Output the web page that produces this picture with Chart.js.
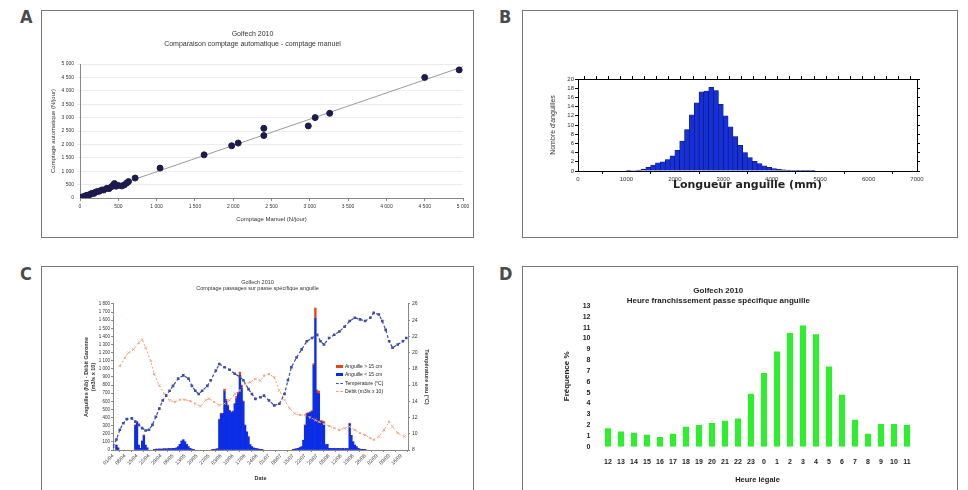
<!DOCTYPE html>
<html lang="fr">
<head>
<meta charset="utf-8">
<title>Golfech 2010</title>
<script src="https://cdn.jsdelivr.net/npm/chart.js@4.4.1/dist/chart.umd.min.js"></script>
<style>
  html, body { margin: 0; padding: 0; background: #fff; }
  body { width: 968px; height: 490px; position: relative; overflow: hidden; font-family: "Liberation Sans", Arial, sans-serif; }
  .tag { position: absolute; font-family: "Liberation Sans Narrow", "DejaVu Sans Condensed", sans-serif; font-weight: bold; font-size: 18px; line-height: 18px; color: #4b4b4b; }
  .box { position: absolute; box-sizing: border-box; border: 1px solid #777; background: #fff; }
  .box .wrap { position: absolute; left: 0; top: 0; right: 0; bottom: 0; }
  .legend { position: absolute; left: 336px; top: 362px; font-size: 5px; line-height: 8.3px; color: #222; }
  .legend div { white-space: nowrap; }
  .legend span { display: inline-block; width: 7px; height: 3px; margin-right: 2px; vertical-align: middle; }
</style>
</head>
<body>
  <div class="tag" style="left:20px;top:8px">A</div>
  <div class="box" style="left:41px;top:10px;width:433px;height:228px"><div class="wrap"><canvas id="chartA"></canvas></div></div>

  <div class="tag" style="left:499px;top:8px">B</div>
  <div class="box" style="left:522px;top:10px;width:436px;height:228px"><div class="wrap"><canvas id="chartB"></canvas></div></div>

  <div class="tag" style="left:20px;top:265px">C</div>
  <div class="box" style="left:41px;top:266px;width:433px;height:240px"><div class="wrap" style="bottom:16px"><canvas id="chartC"></canvas></div></div>

  <div class="tag" style="left:499px;top:265px">D</div>
  <div class="box" style="left:522px;top:266px;width:436px;height:240px"><div class="wrap" style="bottom:16px"><canvas id="chartD"></canvas></div></div>

  <div class="legend">
    <div><span style="background:#e8431c"></span>Anguille &gt; 15 cm</div>
    <div><span style="background:#0b2de6"></span>Anguille &lt; 15 cm</div>
    <div><span style="height:0;border-top:1px dashed #3c4ca8"></span>Température (°C)</div>
    <div><span style="height:0;border-top:1px dashed #f2a07a"></span>Débit (m3/s x 10)</div>
  </div>

<script>
// A - comptage manuel vs automatique
const manualCounts = [20, 45, 70, 90, 110, 130, 155, 180, 200, 220, 250, 285, 310, 350, 380, 410,
  436, 450, 470, 500, 545, 580, 610, 633, 720, 1045, 1620, 1980, 2065, 2400, 2400, 2980, 3070, 3260, 4500, 4950];
const autoCounts = [30, 50, 80, 100, 112, 130, 175, 170, 210, 237, 250, 300, 300, 362, 350, 420,
  488, 540, 440, 470, 450, 490, 560, 612, 745, 1115, 1610, 1950, 2050, 2330, 2600, 2690, 3000, 3160, 4500, 4780];
const fitLineX = [0, 5000];
const fitLineY = [0, 4900];

// B - histogramme des longueurs
const lengthBins = [1050, 1150, 1250, 1350, 1450, 1550, 1650, 1750, 1850, 1950, 2050, 2150, 2250, 2350,
  2450, 2550, 2650, 2750, 2850, 2950, 3050, 3150, 3250, 3350, 3450, 3550, 3650, 3750, 3850, 3950,
  4050, 4150, 4250, 4350, 4450, 4550, 4650, 4750, 4850];
const lengthCounts = [0.05, 0.1, 0.2, 0.4, 0.8, 1.3, 1.8, 2.0, 2.5, 3.3, 4.5, 6.5, 9.0, 12.2,
  14.8, 17.2, 17.4, 18.2, 17.5, 14.5, 12.0, 9.6, 7.5, 5.6, 4.0, 2.9, 2.1, 1.6, 1.1, 0.8,
  0.5, 0.35, 0.25, 0.18, 0.12, 0.08, 0.05, 0.03, 0.02];

// C - comptages journaliers
const dateLabels = ["01/04", "08/04", "15/04", "22/04", "29/04", "06/05", "13/05", "20/05", "27/05",
  "03/06", "10/06", "17/06", "24/06", "01/07", "08/07", "15/07", "22/07", "29/07", "05/08",
  "12/08", "19/08", "26/08", "02/09", "09/09", "16/09"];
const eelDays = [2, 3, 13, 14, 15, 16, 17, 18, 19, 20,
  24, 25, 26, 27, 28, 29, 30, 31, 32, 33, 34, 35, 36, 37,
  38, 39, 40, 41, 42, 43, 44, 45, 46, 47, 58, 59, 60, 61,
  62, 63, 64, 65, 66, 67, 68, 69, 70, 71, 72, 73, 74, 75, 76, 77, 78, 79, 80, 81, 82, 83, 84, 85, 86, 87,
  105, 106, 107, 108, 109, 110, 111, 112, 113, 114, 115, 116, 117, 118, 119, 120, 121, 122, 123, 124, 125,
  126, 127, 128, 129, 130, 131, 132, 133, 134, 135, 136, 137,
  138, 139, 140, 141, 142, 143, 144, 145, 146, 147];
const smallEels = [60, 25, 300, 340, 60, 20, 110, 175, 60, 25,
  8, 10, 10, 12, 10, 12, 15, 12, 15, 18, 15, 20, 20, 25,
  40, 70, 110, 125, 100, 70, 40, 20, 10, 8, 5, 8, 10, 15,
  370, 440, 450, 720, 600, 540, 480, 460, 470, 560, 630, 690, 920, 780, 590, 300, 220, 160, 65, 40, 25, 20, 15, 10, 8, 5,
  8, 10, 15, 20, 30, 40, 120, 300, 440, 450, 460, 470, 1040, 1620, 700, 690, 350, 340, 330, 65, 70,
  20, 20, 18, 20, 15, 20, 18, 15, 20, 15, 18, 15,
  320, 180, 100, 60, 40, 20, 10, 8, 5, 5];
const largeEels = [0, 0, 10, 12, 0, 0, 0, 10, 0, 0,
  0, 0, 0, 0, 0, 0, 0, 0, 0, 0, 0, 0, 0, 0,
  0, 0, 0, 0, 0, 0, 0, 0, 0, 0, 0, 0, 0, 0,
  10, 15, 0, 30, 25, 15, 10, 10, 10, 15, 30, 20, 40, 20, 15, 10, 5, 5, 0, 0, 0, 0, 0, 0, 0, 0,
  0, 0, 0, 0, 0, 0, 0, 10, 15, 10, 10, 15, 25, 130, 40, 35, 15, 20, 20, 0, 0,
  0, 0, 0, 0, 0, 0, 0, 0, 0, 0, 0, 0,
  10, 0, 0, 0, 0, 0, 0, 0, 0, 0];
const tempDays = [0, 2, 4, 6, 8, 11, 13, 15, 17, 19, 21, 23, 25, 27, 29, 31, 33, 35, 38, 41,
  44, 46, 48, 50, 52, 55, 57, 60, 62, 65, 68, 71, 74, 76, 79, 81, 83, 86, 88, 91,
  94, 97, 100, 102, 104, 107, 110, 113, 116, 119, 121, 123, 126, 129, 132, 135, 138, 141, 144, 147,
  150, 152, 155, 157, 159, 161, 163, 166, 169, 171];
const tempValues = [8.4, 9.3, 10.5, 11.3, 11.8, 11.9, 11.5, 11.1, 10.7, 10.4, 10.5, 11.1, 12.1, 13.1, 14.1, 14.7, 15.3, 15.9, 16.8, 17.2,
  16.8, 15.9, 15.3, 14.9, 15.3, 15.9, 16.6, 17.8, 18.6, 18.2, 17.9, 17.4, 17.0, 16.6, 15.5, 14.9, 14.3, 14.5, 14.7, 14.1,
  13.5, 13.7, 14.9, 16.6, 18.2, 19.4, 20.4, 21.4, 21.8, 22.2, 21.4, 21.0, 21.8, 22.2, 22.6, 23.2, 23.9, 24.3, 24.1, 23.9,
  24.3, 24.9, 24.7, 23.9, 22.8, 21.4, 20.6, 21.0, 21.4, 21.8];
const flowDays = [0, 2, 4, 7, 9, 12, 15, 17, 19, 22, 24, 27, 30, 33, 36, 39, 42, 45, 48, 51,
  54, 56, 59, 62, 65, 68, 71, 74, 77, 80, 83, 86, 88, 91, 94, 97, 100, 103, 106, 109,
  112, 115, 118, 120, 123, 126, 129, 132, 135, 138, 141, 144, 147, 150, 152, 155, 158, 161, 163, 166, 170];
const flowValues = [1666, null, 1038, 1139, 1200, 1240, 1322, 1362, 1261, 1099, 936, 795, 693, 612, 592, 620, 620, 604, 572, 539,
  612, 632, 592, 551, 572, 612, 693, 734, 815, 835, 876, 855, 916, 936, 896, 734, 612, 511, 450, 430,
  430, 401, 369, 349, 320, 296, 268, 247, 268, 288, 247, 207, 186, 146, 126, 166, 247, 349, 288, 207, 166];

// D - heure de franchissement
const hourLabels = ["12", "13", "14", "15", "16", "17", "18", "19", "20", "21", "22", "23",
  "0", "1", "2", "3", "4", "5", "6", "7", "8", "9", "10", "11"];
const hourFrequency = [1.7, 1.4, 1.3, 1.1, 0.9, 1.2, 1.85, 2.0, 2.2, 2.4, 2.6, 4.9,
  6.8, 8.8, 10.5, 11.2, 10.4, 7.4, 4.8, 2.5, 1.2, 2.1, 2.1, 2.0];

Chart.defaults.font.family = '"Liberation Sans", Arial, sans-serif';
Chart.defaults.color = "#333";
Chart.defaults.animation = false;
Chart.defaults.responsive = true;
Chart.defaults.maintainAspectRatio = false;
Chart.defaults.plugins.legend.display = false;
Chart.defaults.plugins.tooltip.enabled = false;

const numberFormat = (v) => {
  if (v < 1000) return String(v);
  return Math.floor(v / 1000) + " " + String(v % 1000).padStart(3, "0");
};

document.addEventListener("DOMContentLoaded", () => {
  new Chart(document.getElementById("chartA"), {
    type: "scatter",
    data: {
      datasets: [
        {
          label: "Comptages",
          data: manualCounts.map((m, i) => ({ x: m, y: autoCounts[i] })),
          backgroundColor: "#1b1b4d",
          borderColor: "#1b1b4d",
          pointRadius: 3,
        },
        {
          label: "Ajustement",
          type: "line",
          data: fitLineX.map((x, i) => ({ x: x, y: fitLineY[i] })),
          borderColor: "#9a9a9a",
          borderWidth: 1,
          pointRadius: 0,
        },
      ],
    },
    options: {
      layout: { padding: { left: 0, right: 10, top: 0, bottom: 0 } },
      plugins: {
        title: {
          display: true,
          text: ["Golfech 2010", "Comparaison comptage automatique - comptage manuel"],
          font: { size: 7, weight: "normal", lineHeight: 1.4 },
          padding: { top: 18, bottom: 15.4 },
        },
      },
      scales: {
        x: {
          type: "linear", min: 0, max: 5000,
          ticks: { stepSize: 500, callback: numberFormat, font: { size: 5 }, padding: 3, maxRotation: 0, autoSkip: false },
          grid: { drawOnChartArea: false, tickLength: 3, color: "#888" },
          border: { color: "#888" },
          title: { display: true, text: "Comptage Manuel (N/jour)", font: { size: 6 }, padding: { top: 0, bottom: 14.4 } },
          afterFit: (s) => { s.height = 39; },
        },
        y: {
          min: 0, max: 5000,
          ticks: { stepSize: 500, callback: numberFormat, font: { size: 5 }, padding: 3, autoSkip: false },
          grid: { color: "#ececec", tickLength: 3 },
          border: { color: "#888" },
          title: { display: true, text: "Comptage automatique (N/jour)", font: { size: 6 }, padding: { top: 7.4, bottom: 0 } },
          afterFit: (s) => { s.width = 38; },
        },
      },
    },
  });

  new Chart(document.getElementById("chartB"), {
    type: "bar",
    data: {
      datasets: [
        {
          label: "Effectif",
          data: lengthBins.map((x, i) => ({ x: x, y: lengthCounts[i] })),
          backgroundColor: "#1530d8",
          borderColor: "#0a1060",
          borderWidth: 0.6,
          barPercentage: 1,
          categoryPercentage: 1,
        },
      ],
    },
    options: {
      layout: { padding: { left: 0, right: 37, top: 65, bottom: 0 } },
      scales: {
        x: {
          type: "linear", min: 0, max: 7000, offset: false,
          ticks: { stepSize: 1000, font: { size: 6 }, padding: 2, maxRotation: 0, autoSkip: false, callback: (v) => String(v) },
          grid: { drawOnChartArea: false, tickLength: 3, color: "#000" },
          border: { color: "#000" },
          title: {
            display: true, text: "Longueur anguille (mm)", color: "#222",
            font: { family: '"DejaVu Sans", sans-serif', size: 11, weight: "bold" },
            padding: { top: 0, bottom: 45 },
          },
          afterFit: (s) => { s.height = 66; },
        },
        x2: {
          type: "linear", position: "top", min: 0, max: 7000, offset: false,
          ticks: { stepSize: 250, display: false, autoSkip: false },
          grid: { drawOnChartArea: false, tickLength: 3, color: "#000" },
          border: { color: "#000" },
          afterFit: (s) => { s.height = 3; },
        },
        y: {
          min: 0, max: 20,
          ticks: { stepSize: 2, font: { size: 6 }, padding: 1, autoSkip: false },
          grid: { drawOnChartArea: false, tickLength: 3, color: "#000" },
          border: { color: "#000" },
          title: { display: true, text: "Nombre d'anguilles", font: { size: 7 }, padding: { top: 25.8, bottom: 0 } },
          afterFit: (s) => { s.width = 55; },
        },
        y2: {
          position: "right", min: 0, max: 20,
          ticks: { stepSize: 2, display: false, autoSkip: false },
          grid: { drawOnChartArea: false, tickLength: 3, color: "#000" },
          border: { color: "#000" },
          afterFit: (s) => { s.width = 3; },
        },
      },
    },
  });

  new Chart(document.getElementById("chartC"), {
    type: "bar",
    data: {
      datasets: [
        {
          label: "Température (°C)",
          type: "line",
          yAxisID: "yT",
          data: tempDays.map((d, i) => ({ x: d, y: tempValues[i] })),
          borderColor: "#3c4ca8",
          backgroundColor: "#3c4ca8",
          borderWidth: 1.2,
          borderDash: [3, 2],
          pointStyle: "rect",
          pointRadius: 1,
        },
        {
          label: "Débit (m3/s x 10)",
          type: "line",
          yAxisID: "yFlow",
          data: flowDays.map((d, i) => ({ x: d, y: flowValues[i] })),
          borderColor: "#f2a07a",
          backgroundColor: "#f2a07a",
          borderWidth: 1,
          borderDash: [2, 2],
          pointStyle: "crossRot",
          pointRadius: 1.5,
          spanGaps: false,
        },
        {
          label: "Anguille < 15 cm",
          data: eelDays.map((d, i) => ({ x: d, y: smallEels[i] })),
          backgroundColor: "#0b2de6",
          stack: "eels",
          barPercentage: 1,
          categoryPercentage: 1,
        },
        {
          label: "Anguille > 15 cm",
          data: eelDays.map((d, i) => ({ x: d, y: largeEels[i] })),
          backgroundColor: "#e8431c",
          stack: "eels",
          barPercentage: 1,
          categoryPercentage: 1,
        },
      ],
    },
    options: {
      layout: { padding: 0 },
      plugins: {
        title: {
          display: true,
          text: ["Golfech 2010", "Comptage passages sur passe spécifique anguille"],
          font: { size: 5.5, weight: "normal", lineHeight: 1.27 },
          padding: { top: 11.5, bottom: 11.5 },
        },
      },
      scales: {
        x: {
          type: "linear", min: 0, max: 172, offset: false, stacked: true,
          ticks: {
            stepSize: 7, includeBounds: false, autoSkip: false, minRotation: 45, maxRotation: 45,
            font: { size: 5 }, padding: 1,
            callback: (v) => dateLabels[v / 7] ?? "",
          },
          grid: { drawOnChartArea: false, tickLength: 2, color: "#888" },
          border: { color: "#888" },
          title: { display: true, text: "Date", font: { size: 5.5, weight: "bold" }, padding: { top: 0, bottom: 7.5 } },
          afterFit: (s) => { s.height = 39; },
        },
        y: {
          min: 0, max: 1800, stacked: true,
          ticks: { stepSize: 100, autoSkip: false, callback: numberFormat, font: { size: 4.5 }, padding: 1 },
          grid: { drawOnChartArea: false, tickLength: 2, color: "#888" },
          border: { color: "#888" },
          title: {
            display: true, text: ["Anguilles (Nb) - Débit Garonne", "(m3/s x 10)"],
            font: { size: 5.5, weight: "bold" }, padding: { top: 41.5, bottom: 0 },
          },
          afterFit: (s) => { s.width = 71; },
        },
        yFlow: { display: false, min: 0, max: 1800 },
        yT: {
          position: "right", min: 8, max: 26,
          ticks: { stepSize: 2, font: { size: 5 }, padding: 2, autoSkip: false },
          grid: { drawOnChartArea: false, tickLength: 2, color: "#888" },
          border: { color: "#888" },
          title: { display: true, text: "Température eau (°C)", font: { size: 5.5, weight: "bold" }, padding: { top: 42.7, bottom: 0 } },
          afterFit: (s) => { s.width = 65; },
        },
      },
    },
  });

  new Chart(document.getElementById("chartD"), {
    type: "bar",
    data: {
      labels: hourLabels,
      datasets: [
        {
          label: "Fréquence %",
          data: hourFrequency,
          backgroundColor: "#2bf02b",
          barPercentage: 0.46,
          categoryPercentage: 1,
        },
      ],
    },
    options: {
      layout: { padding: { left: 0, right: 43.5, top: 0, bottom: 0 } },
      plugins: {
        title: {
          display: true,
          text: ["Golfech 2010", "Heure franchissement passe spécifique anguille"],
          color: "#222",
          font: { size: 8, weight: "bold", lineHeight: 1.25 },
          padding: { top: 19, bottom: 0 },
        },
      },
      scales: {
        x: {
          ticks: { font: { size: 7, weight: "bold" }, color: "#222", padding: 3, maxRotation: 0, autoSkip: false },
          grid: { display: false },
          border: { display: false },
          title: { display: true, text: "Heure légale", color: "#222", font: { size: 7.5, weight: "bold" }, padding: { top: 0, bottom: 4.2 } },
          afterFit: (s) => { s.height = 42.3; },
        },
        y: {
          min: 0, max: 13,
          ticks: { stepSize: 1, font: { size: 7, weight: "bold" }, color: "#222", padding: 3, autoSkip: false },
          grid: { display: false },
          border: { display: false },
          title: { display: true, text: "Fréquence %", color: "#222", font: { size: 8, weight: "bold" }, padding: { top: 39.2, bottom: 0 } },
          afterFit: (s) => { s.width = 78.5; },
        },
      },
    },
  });
});
</script>
</body>
</html>
